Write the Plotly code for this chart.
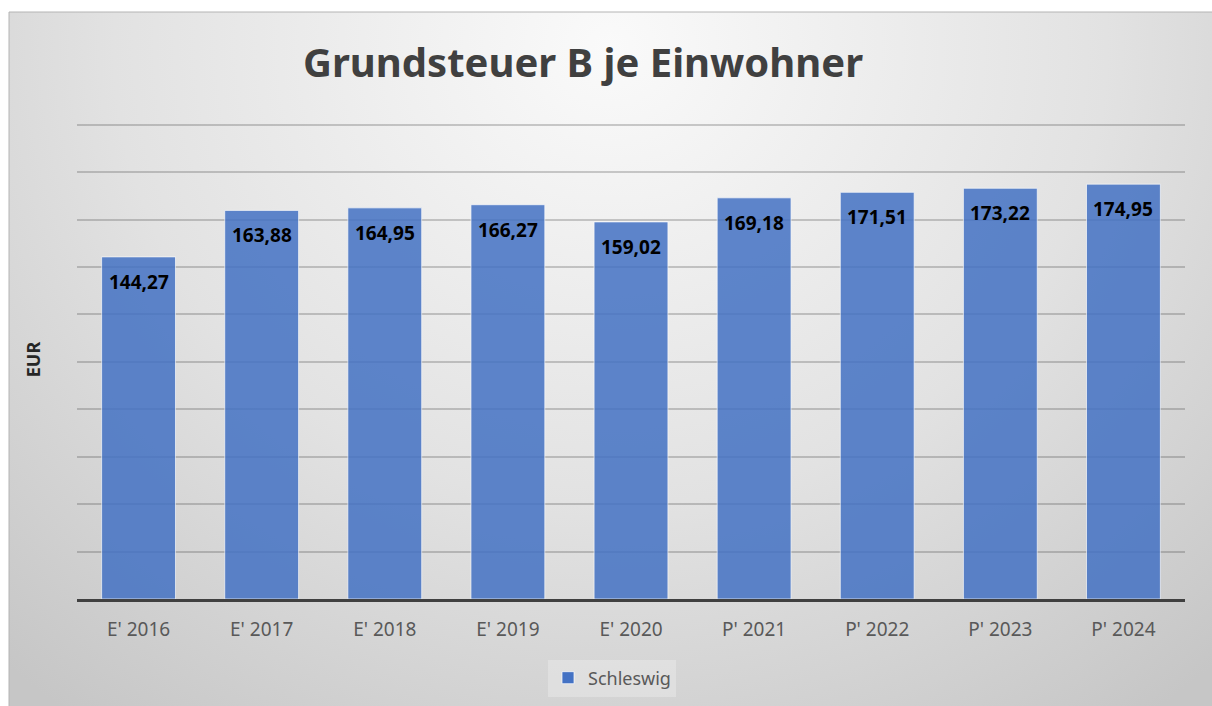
import base64
import plotly.graph_objects as go

categories = ["E' 2016", "E' 2017", "E' 2018", "E' 2019", "E' 2020",
              "P' 2021", "P' 2022", "P' 2023", "P' 2024"]
values = [144.27, 163.88, 164.95, 166.27, 159.02, 169.18, 171.51, 173.22, 174.95]
series_name = "Schleswig"
title_text = "Grundsteuer B je Einwohner"
y_title = "EUR"

W, H = 1212, 706
L, R, T, B = 77, 27, 120, 107
pw, ph = W - L - R, H - T - B

def px_x(p):
    return (p - L) / pw

def px_y(p):
    return (H - B - p) / ph

svg = """<svg xmlns='http://www.w3.org/2000/svg' width='1203' height='694' viewBox='0 0 1203 694' preserveAspectRatio='none'>
<defs><radialGradient id='g' cx='0.5' cy='0.05' r='0.75' gradientTransform='translate(0.5 0.05) scale(1 1.6) translate(-0.5 -0.05)'>
<stop offset='0' stop-color='#fafafa'/><stop offset='0.55' stop-color='#e2e2e2'/><stop offset='1' stop-color='#c6c6c6'/></radialGradient></defs>
<rect width='1203' height='694' fill='url(#g)'/></svg>"""
src = "data:image/svg+xml;base64," + base64.b64encode(svg.encode()).decode()

fig = go.Figure()
fig.add_trace(go.Bar(
    x=categories, y=values, name=series_name,
    marker=dict(color="#4472C4", opacity=0.85,
                line=dict(color="rgba(255,255,255,0.7)", width=1)),
    width=0.6,
))

for c, v in zip(categories, values):
    fig.add_annotation(x=c, y=v, text=f"{v:.2f}".replace(".", ","),
                       showarrow=False, yanchor="middle", yshift=-25,
                       font=dict(family="Noto Sans", size=19, color="#000000", weight="bold"))

fig.add_layout_image(dict(source=src, xref="paper", yref="paper",
                          x=px_x(9), y=px_y(12), sizex=px_x(W) - px_x(9),
                          sizey=px_y(12) - px_y(H), xanchor="left", yanchor="top",
                          sizing="stretch", layer="below"))
fig.add_shape(type="rect", xref="paper", yref="paper",
              x0=px_x(9), x1=px_x(W + 5), y0=px_y(H + 5), y1=px_y(12),
              line=dict(color="#b4b4b4", width=1), fillcolor="rgba(0,0,0,0)", layer="below")

fig.update_layout(
    width=W, height=H,
    margin=dict(l=L, r=R, t=T, b=B, autoexpand=False),
    paper_bgcolor="white", plot_bgcolor="rgba(0,0,0,0)",
    title=dict(text=title_text, x=px_x(610), xanchor="center",
               y=1 - 63 / H, yanchor="middle",
               font=dict(family="Noto Sans", size=40, color="#404040", weight="bold")),
    showlegend=True,
    legend=dict(orientation="h", x=px_x(612), xanchor="center", y=px_y(678), yanchor="middle",
                bgcolor="rgba(255,255,255,0.25)", itemwidth=30,
                font=dict(family="Noto Sans", size=18, color="#595959")),
    bargap=0.4,
)
fig.update_xaxes(showline=True, linecolor="#404040", linewidth=3, showgrid=False,
                 tickfont=dict(family="Noto Sans", size=19, color="#595959"),
                 ticks="", ticklabelstandoff=11)
fig.update_yaxes(range=[0, 202], dtick=20, showticklabels=False, showgrid=True,
                 gridcolor="rgba(60,60,60,0.25)", gridwidth=1.5, zeroline=False,
                 title=dict(text=y_title, standoff=30,
                            font=dict(family="Noto Sans", size=18, color="#262626", weight="bold")))

fig.write_html("out.html", config={"displayModeBar": False},
               post_script="document.body.style.margin='0';")
